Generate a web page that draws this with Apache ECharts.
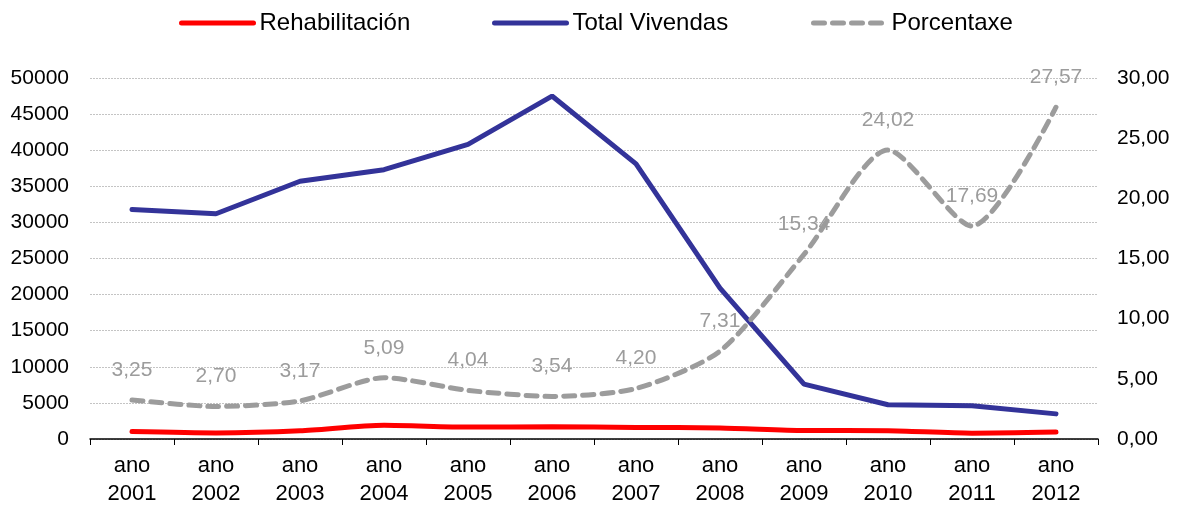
<!DOCTYPE html>
<html>
<head>
<meta charset="utf-8">
<script src="https://cdn.jsdelivr.net/npm/echarts@6/dist/echarts.min.js"></script>
<style>
  html, body { margin: 0; padding: 0; background: #fff; }
  #chart { width: 1181px; height: 505px; }
</style>
</head>
<body>
<div id="chart"></div>
<script>
const years = ['2001', '2002', '2003', '2004', '2005', '2006', '2007', '2008', '2009', '2010', '2011', '2012'];
const rehabilitacion = [1030, 840, 1130, 1900, 1650, 1680, 1600, 1530, 1180, 1140, 810, 960];
const totalVivendas = [31800, 31200, 35700, 37300, 40800, 47500, 38100, 20900, 7600, 4750, 4600, 3480];
const porcentaxe = [3.25, 2.70, 3.17, 5.09, 4.04, 3.54, 4.20, 7.31, 15.34, 24.02, 17.69, 27.57];

const font = 'Liberation Sans, Arial, sans-serif';
const chart = echarts.init(document.getElementById('chart'));

const fmt = (v) => v.toFixed(2).replace('.', ',');

function legendAt(name, left) {
  return {
    top: 11,
    left: left,
    padding: 0,
    itemWidth: 72,
    itemHeight: 26,
    lineStyle: { width: 5, cap: 'round' },
    itemStyle: { color: 'rgba(0,0,0,0)', borderWidth: 0 },
    textStyle: { fontSize: 24, color: '#000', fontFamily: font, padding: [0, 0, 0, 1] },
    data: [name],
  };
}

chart.setOption({
  backgroundColor: '#fff',
  animation: false,
  textStyle: { fontFamily: font },
  legend: [
    legendAt('Rehabilitación', 179),
    legendAt('Total Vivendas', 492),
    legendAt('Porcentaxe', 811),
  ],
  grid: { left: 90, right: 83, top: 78, bottom: 66, outerBoundsMode: 'none' },
  xAxis: {
    type: 'category',
    data: years.map((y) => 'ano\n' + y),
    boundaryGap: true,
    axisLine: { lineStyle: { color: '#000', width: 1.5 } },
    axisTick: { show: true, length: 6, lineStyle: { color: '#000' } },
    axisLabel: { color: '#000', fontSize: 22, lineHeight: 28, margin: 13, interval: 0 },
  },
  yAxis: [
    {
      type: 'value',
      min: 0,
      max: 50000,
      interval: 5000,
      axisLine: { show: false },
      axisTick: { show: false },
      axisLabel: { color: '#000', fontSize: 21, margin: 21, formatter: (v) => String(v) },
      splitLine: { lineStyle: { color: '#c4c4c4', type: [2, 1], width: 1 } },
    },
    {
      type: 'value',
      min: 0,
      max: 30,
      interval: 5,
      position: 'right',
      axisLine: { show: false },
      axisTick: { show: false },
      axisLabel: { color: '#000', fontSize: 21, margin: 19, formatter: fmt },
      splitLine: { show: false },
    },
  ],
  series: [
    {
      name: 'Rehabilitación',
      type: 'line',
      smooth: 0.25,
      symbol: 'none',
      lineStyle: { color: '#ff0000', width: 5, cap: 'round' },
      itemStyle: { color: '#ff0000' },
      data: rehabilitacion,
    },
    {
      name: 'Total Vivendas',
      type: 'line',
      symbol: 'none',
      lineStyle: { color: '#333399', width: 5, cap: 'round' },
      itemStyle: { color: '#333399' },
      data: totalVivendas,
    },
    {
      name: 'Porcentaxe',
      type: 'line',
      yAxisIndex: 1,
      smooth: 0.25,
      symbol: 'circle',
      symbolSize: 1,
      showSymbol: true,
      lineStyle: { color: '#9c9c9c', width: 5, type: [11, 8], cap: 'round' },
      itemStyle: { color: 'rgba(156,156,156,0)' },
      label: {
        show: true,
        position: 'top',
        distance: 19,
        color: '#9c9c9c',
        fontSize: 21,
        formatter: (p) => fmt(p.value),
      },
      data: porcentaxe,
    },
  ],
});
</script>
</body>
</html>
